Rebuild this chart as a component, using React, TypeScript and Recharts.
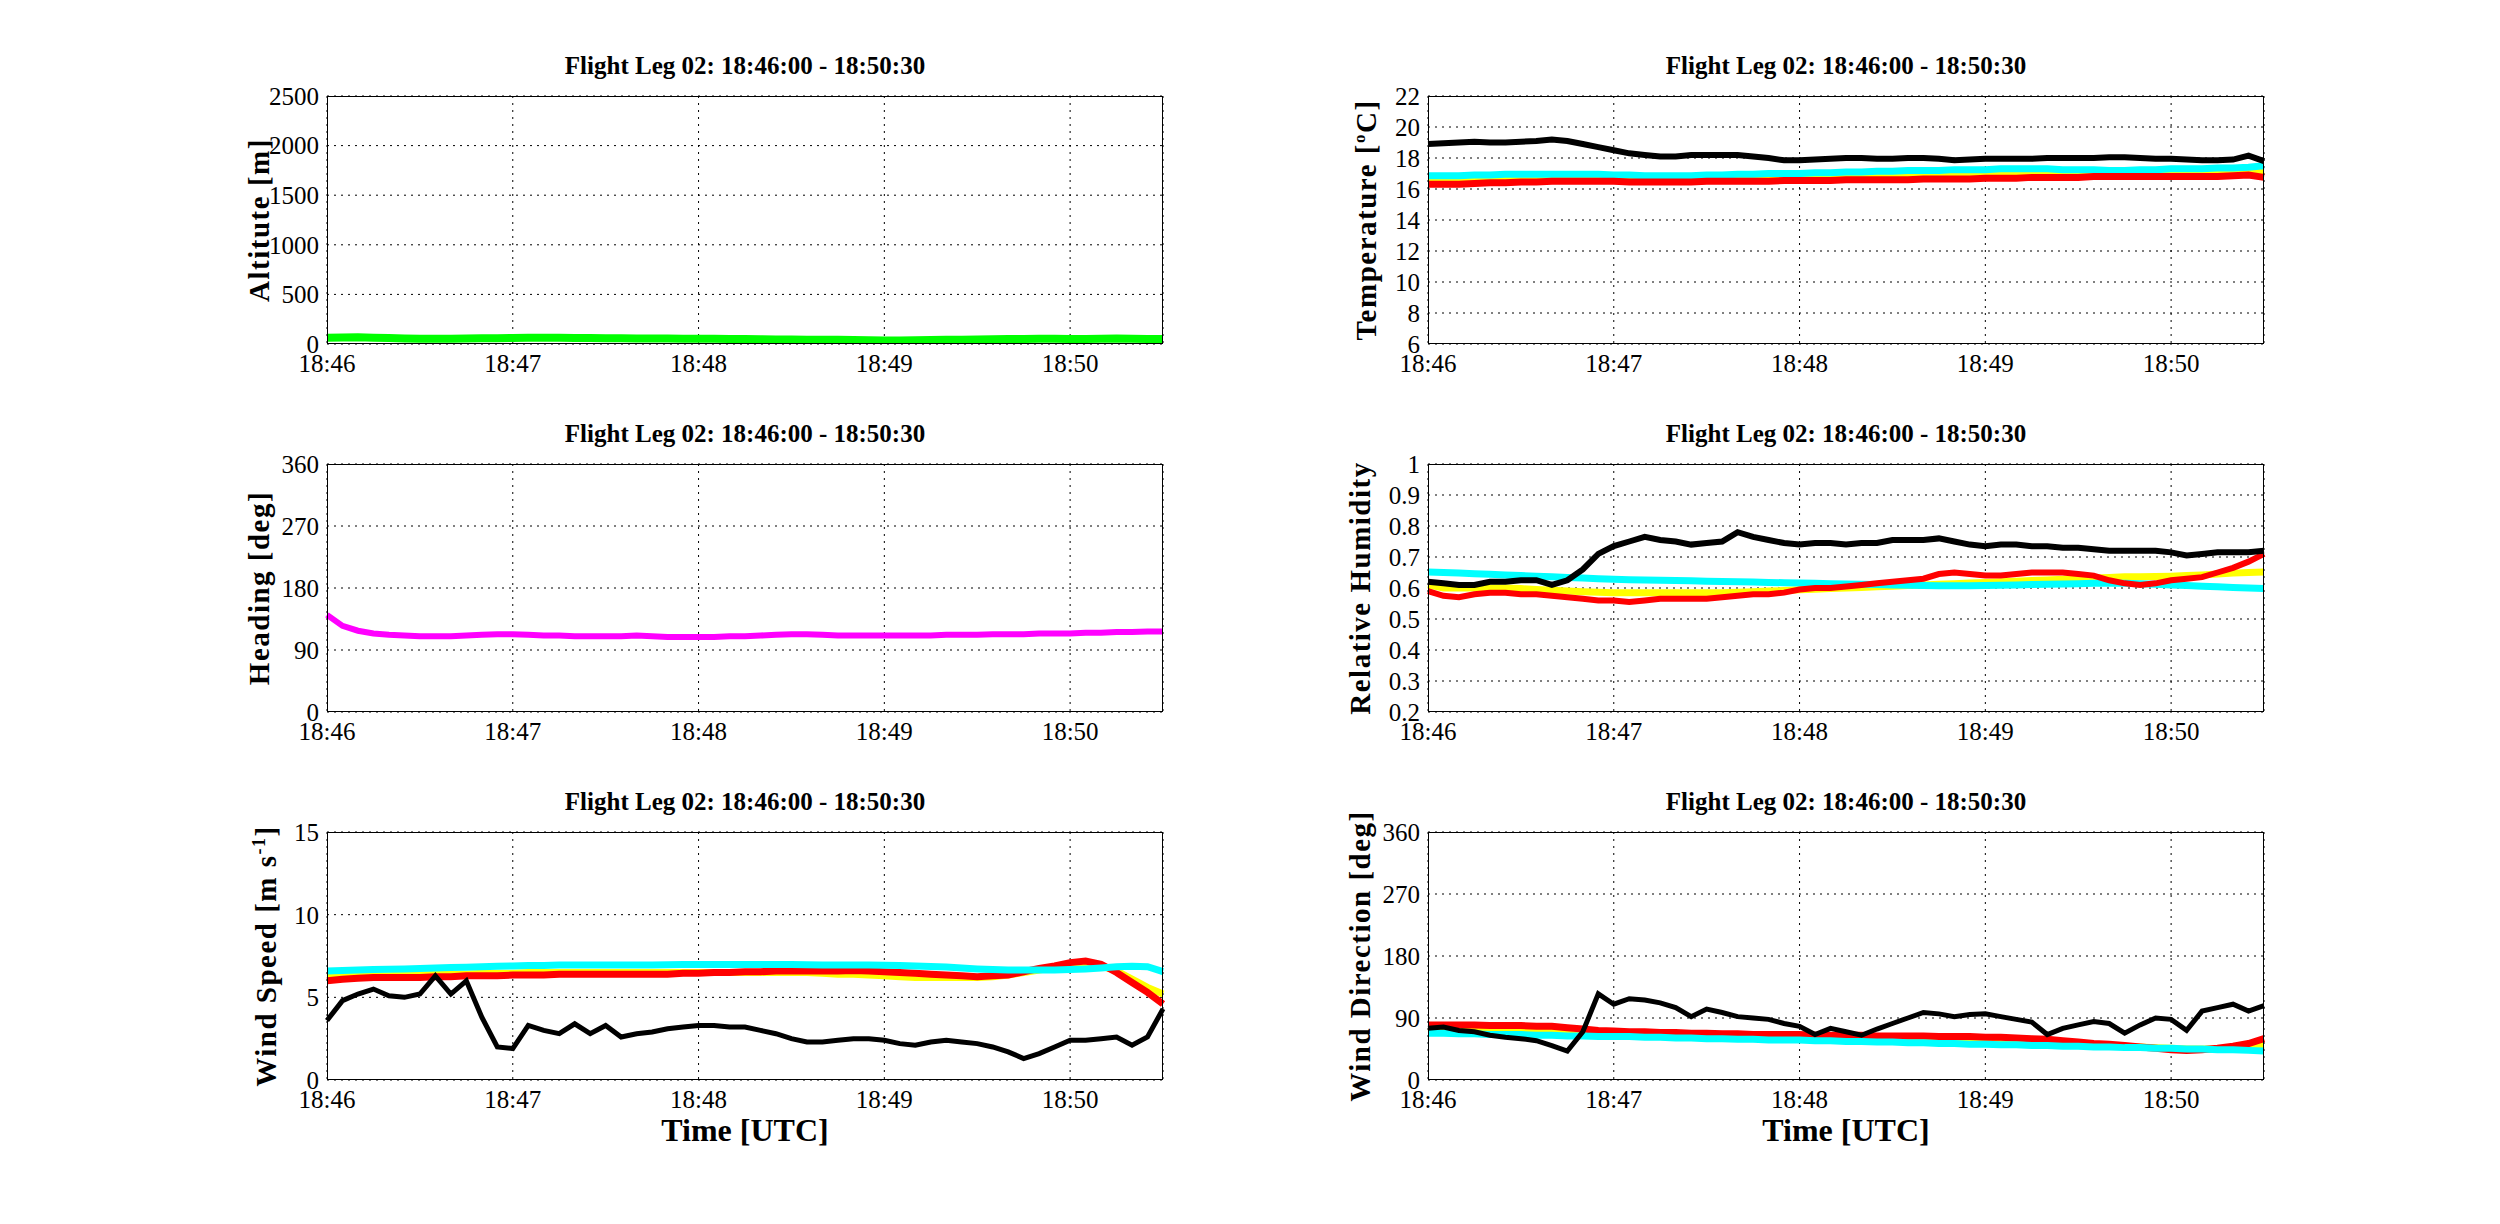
import React from 'react';
import { LineChart, Line, XAxis, YAxis, CartesianGrid } from 'recharts';

// seconds since 18:46:00, every 5 s
const times = Array.from({ length: 55 }, (_, i) => i * 5);
const timeTicks = [0, 60, 120, 180, 240];
const timeLabels = ['18:46', '18:47', '18:48', '18:49', '18:50'];

const altitude = [
  62, 66, 68, 64, 60, 56, 52, 52, 53, 55,
  57, 58, 60, 62, 62, 62, 60, 60, 58, 58,
  56, 56, 55, 54, 53, 52, 50, 50, 48, 46,
  45, 44, 42, 42, 40, 38, 36, 36, 38, 40,
  42, 44, 46, 48, 50, 50, 52, 52, 50, 50,
  52, 55, 52, 50, 50,
];
const heading = [
  141, 125, 118, 114, 112, 111, 110, 110, 110, 111,
  112, 113, 113, 112, 111, 111, 110, 110, 110, 110,
  111, 110, 109, 109, 109, 109, 110, 110, 111, 112,
  113, 113, 112, 111, 111, 111, 111, 111, 111, 111,
  112, 112, 112, 113, 113, 113, 114, 114, 114, 115,
  115, 116, 116, 117, 117,
];
const tempBlack = [
  18.9, 18.95, 19.0, 19.05, 19.0, 19.0, 19.05, 19.1, 19.2, 19.1,
  18.9, 18.7, 18.5, 18.3, 18.2, 18.1, 18.1, 18.2, 18.2, 18.2,
  18.2, 18.1, 18.0, 17.85, 17.85, 17.9, 17.95, 18.0, 18.0, 17.95,
  17.95, 18.0, 18.0, 17.95, 17.85, 17.9, 17.95, 17.95, 17.95, 17.95,
  18.0, 18.0, 18.0, 18.0, 18.05, 18.05, 18.0, 17.95, 17.95, 17.9,
  17.85, 17.85, 17.9, 18.15, 17.8,
];
const tempCyan = [
  16.85, 16.85, 16.85, 16.9, 16.9, 16.95, 16.95, 16.95, 16.95, 16.95,
  16.95, 16.95, 16.9, 16.9, 16.85, 16.85, 16.85, 16.85, 16.9, 16.9,
  16.95, 16.95, 17.0, 17.0, 17.0, 17.05, 17.05, 17.1, 17.1, 17.15,
  17.15, 17.2, 17.2, 17.2, 17.25, 17.25, 17.25, 17.3, 17.3, 17.3,
  17.3, 17.25, 17.25, 17.25, 17.2, 17.2, 17.25, 17.25, 17.3, 17.3,
  17.3, 17.35, 17.35, 17.4, 17.5,
];
const tempYellow = [
  16.5, 16.5, 16.55, 16.55, 16.6, 16.6, 16.6, 16.6, 16.6, 16.6,
  16.6, 16.6, 16.6, 16.6, 16.6, 16.6, 16.6, 16.6, 16.65, 16.65,
  16.65, 16.65, 16.7, 16.7, 16.7, 16.7, 16.75, 16.75, 16.75, 16.8,
  16.8, 16.85, 16.85, 16.85, 16.9, 16.9, 16.9, 16.9, 16.95, 16.95,
  16.95, 16.95, 16.95, 16.95, 16.95, 16.95, 16.95, 16.95, 16.95, 17.0,
  17.0, 17.0, 17.05, 17.1, 17.2,
];
const tempRed = [
  16.3, 16.3, 16.3, 16.35, 16.4, 16.4, 16.45, 16.45, 16.5, 16.5,
  16.5, 16.5, 16.5, 16.45, 16.45, 16.45, 16.45, 16.45, 16.5, 16.5,
  16.5, 16.5, 16.5, 16.55, 16.55, 16.55, 16.55, 16.6, 16.6, 16.6,
  16.6, 16.6, 16.65, 16.65, 16.65, 16.65, 16.7, 16.7, 16.7, 16.75,
  16.75, 16.75, 16.75, 16.8, 16.8, 16.8, 16.8, 16.8, 16.8, 16.8,
  16.8, 16.8, 16.85, 16.9, 16.75,
];
const rhBlack = [
  0.62, 0.615, 0.61, 0.61, 0.62, 0.62, 0.625, 0.625, 0.61, 0.625,
  0.66, 0.71, 0.735, 0.75, 0.765, 0.755, 0.75, 0.74, 0.745, 0.75,
  0.78, 0.765, 0.755, 0.745, 0.74, 0.745, 0.745, 0.74, 0.745, 0.745,
  0.755, 0.755, 0.755, 0.76, 0.75, 0.74, 0.735, 0.74, 0.74, 0.735,
  0.735, 0.73, 0.73, 0.725, 0.72, 0.72, 0.72, 0.72, 0.715, 0.705,
  0.71, 0.715, 0.715, 0.715, 0.72,
];
const rhCyan = [
  0.652, 0.65, 0.648, 0.646, 0.644, 0.642, 0.64, 0.638, 0.636, 0.634,
  0.632, 0.63, 0.628, 0.627, 0.626, 0.625, 0.624, 0.623, 0.622, 0.621,
  0.62, 0.619, 0.618, 0.617, 0.616, 0.615, 0.614, 0.613, 0.612, 0.611,
  0.61, 0.609, 0.608, 0.607, 0.607, 0.607, 0.608, 0.609, 0.61, 0.611,
  0.612, 0.613, 0.614, 0.615, 0.615, 0.615, 0.614, 0.612, 0.61, 0.608,
  0.606, 0.604, 0.602, 0.6, 0.598,
];
const rhYellow = [
  0.61, 0.6, 0.6, 0.6, 0.6, 0.6, 0.598, 0.595, 0.593, 0.59,
  0.588, 0.586, 0.585, 0.585, 0.585, 0.585, 0.585, 0.585, 0.585, 0.585,
  0.586, 0.588, 0.59, 0.592, 0.594, 0.596, 0.598, 0.6, 0.602, 0.604,
  0.606, 0.608, 0.61, 0.612, 0.614, 0.616, 0.618, 0.62, 0.622, 0.624,
  0.626, 0.628, 0.63, 0.632, 0.634, 0.636, 0.636, 0.637, 0.638, 0.64,
  0.642, 0.645, 0.648, 0.65, 0.652,
];
const rhRed = [
  0.59, 0.575, 0.57, 0.58, 0.585, 0.585, 0.58, 0.58, 0.575, 0.57,
  0.565, 0.56, 0.56, 0.555, 0.56, 0.565, 0.565, 0.565, 0.565, 0.57,
  0.575, 0.58, 0.58, 0.585, 0.595, 0.6, 0.6, 0.605, 0.61, 0.615,
  0.62, 0.625, 0.63, 0.645, 0.65, 0.645, 0.64, 0.64, 0.645, 0.65,
  0.65, 0.65, 0.645, 0.64, 0.625, 0.615, 0.61, 0.615, 0.625, 0.63,
  0.635, 0.65, 0.665, 0.685, 0.71,
];
const wsBlack = [
  3.6, 4.8, 5.2, 5.5, 5.1, 5.0, 5.2, 6.3, 5.2, 6.0,
  3.8, 2.0, 1.9, 3.3, 3.0, 2.8, 3.4, 2.8, 3.3, 2.6,
  2.8, 2.9, 3.1, 3.2, 3.3, 3.3, 3.2, 3.2, 3.0, 2.8,
  2.5, 2.3, 2.3, 2.4, 2.5, 2.5, 2.4, 2.2, 2.1, 2.3,
  2.4, 2.3, 2.2, 2.0, 1.7, 1.3, 1.6, 2.0, 2.4, 2.4,
  2.5, 2.6, 2.1, 2.6, 4.3,
];
const wsCyan = [
  6.6, 6.62, 6.65, 6.68, 6.7, 6.72, 6.75, 6.78, 6.8, 6.82,
  6.85, 6.88, 6.9, 6.92, 6.93, 6.95, 6.95, 6.95, 6.95, 6.95,
  6.95, 6.96, 6.97, 6.98, 6.98, 6.98, 6.98, 6.98, 6.98, 6.98,
  6.98, 6.97, 6.96, 6.95, 6.95, 6.95, 6.94, 6.92, 6.9, 6.87,
  6.83, 6.78, 6.72, 6.68, 6.65, 6.65, 6.65, 6.66, 6.68, 6.72,
  6.78, 6.85, 6.88, 6.85, 6.55,
];
const wsYellow = [
  6.2, 6.25, 6.3, 6.3, 6.3, 6.35, 6.35, 6.4, 6.4, 6.4,
  6.45, 6.45, 6.45, 6.5, 6.5, 6.5, 6.5, 6.5, 6.5, 6.5,
  6.5, 6.5, 6.5, 6.5, 6.5, 6.5, 6.5, 6.5, 6.5, 6.5,
  6.5, 6.5, 6.45, 6.4, 6.4, 6.35, 6.3, 6.25, 6.2, 6.2,
  6.2, 6.2, 6.2, 6.25, 6.35, 6.5, 6.65, 6.8, 6.9, 7.0,
  6.9, 6.6, 6.1, 5.6, 5.2,
];
const wsRed = [
  6.0, 6.1, 6.15, 6.2, 6.2, 6.2, 6.2, 6.25, 6.25, 6.3,
  6.3, 6.3, 6.35, 6.35, 6.35, 6.4, 6.4, 6.4, 6.4, 6.4,
  6.4, 6.4, 6.4, 6.45, 6.45, 6.5, 6.5, 6.55, 6.55, 6.6,
  6.6, 6.6, 6.6, 6.6, 6.62, 6.6, 6.55, 6.5, 6.45, 6.4,
  6.35, 6.3, 6.25, 6.3, 6.35, 6.55, 6.75, 6.9, 7.1, 7.2,
  7.0, 6.5, 5.9, 5.3, 4.6,
];
const wdBlack = [
  75, 77, 72, 70, 65, 62, 60, 57, 50, 42,
  70, 125, 110, 118, 116, 112, 105, 92, 103, 98,
  92, 90, 88, 82, 78, 66, 75, 70, 65, 74,
  82, 90, 98, 96, 92, 95, 96, 92, 88, 84,
  66, 75, 80, 85, 82, 68, 80, 90, 88, 72,
  100, 105, 110, 100, 108,
];
const wdCyan = [
  68, 68, 67, 67, 66, 66, 66, 65, 65, 64,
  64, 63, 63, 63, 62, 62, 61, 61, 60, 60,
  59, 59, 58, 58, 58, 57, 57, 56, 56, 55,
  55, 54, 54, 53, 53, 52, 52, 51, 51, 50,
  50, 49, 49, 48, 48, 47, 47, 46, 46, 45,
  45, 44, 44, 43, 42,
];
const wdYellow = [
  76, 75, 75, 74, 74, 73, 72, 71, 70, 69,
  68, 67, 67, 66, 66, 65, 65, 64, 64, 63,
  63, 62, 62, 62, 61, 61, 61, 60, 60, 60,
  59, 59, 59, 58, 58, 57, 57, 56, 56, 55,
  54, 53, 52, 51, 50, 49, 48, 47, 46, 45,
  45, 45, 46, 48, 50,
];
const wdRed = [
  80, 80, 80, 80, 79, 79, 79, 78, 78, 76,
  74, 72, 71, 70, 70, 69, 69, 68, 68, 67,
  67, 66, 66, 66, 66, 65, 65, 65, 65, 64,
  64, 64, 64, 63, 63, 63, 62, 62, 61, 60,
  59, 57, 55, 53, 52, 50, 48, 46, 44, 43,
  44, 46, 49, 53, 60,
];

const TITLE = 'Flight Leg 02: 18:46:00 - 18:50:30';
const FONT = '"Liberation Serif", "Times New Roman", serif';
const PW = 836;
const PH = 248;

type S = { values: number[]; color: string; width: number };

function Panel({ left, top, ylabel, domain, ticks, fmt, series, showTime }: {
  left: number; top: number; ylabel: React.ReactNode; domain: [number, number]; ticks: number[];
  fmt?: (v: number) => string; series: S[]; showTime?: boolean;
}) {
  const data = times.map((t, i) => {
    const row: Record<string, number> = { t };
    series.forEach((s, k) => { row['s' + k] = s.values[i]; });
    return row;
  });
  return (
    <>
      <div style={{ position: 'absolute', left: left - 200, top: top - 20 }}>
        <LineChart width={1100} height={370} data={data} margin={{ top: 20, right: 1100 - 200 - PW, left: 120, bottom: 62 }}>
          <CartesianGrid stroke="#000" strokeDasharray="2 5" strokeWidth={1} />
          <XAxis dataKey="t" type="number" domain={[0, 270]} ticks={timeTicks} tickLine={false} axisLine={false}
            tickSize={0} tickMargin={10} height={40}
            tickFormatter={(v) => timeLabels[timeTicks.indexOf(v)]}
            tick={{ fill: '#000', fontSize: 25, fontFamily: FONT }} />
          <YAxis type="number" domain={domain} ticks={ticks} tickLine={false} axisLine={false} width={80}
            tickSize={0} tickMargin={8} interval={0} allowDataOverflow
            tickFormatter={fmt}
            tick={{ fill: '#000', fontSize: 25, fontFamily: FONT }} />
          {series.map((s, k) => (
            <Line key={k} dataKey={'s' + k} type="linear" stroke={s.color} strokeWidth={s.width}
              dot={false} isAnimationActive={false} />
          ))}
        </LineChart>
      </div>
      <div style={{ position: 'absolute', left, top, width: PW, height: PH, border: '1.5px solid #000', boxSizing: 'border-box', pointerEvents: 'none' }} />
      <div style={{ position: 'absolute', left, top: top - 44, width: PW, textAlign: 'center', fontFamily: FONT, fontWeight: 'bold', fontSize: 25 }}>{TITLE}</div>
      <div style={{ position: 'absolute', left: left - 68 - 200, top: top + PH / 2 - 18, width: 400, height: 36, lineHeight: '36px', textAlign: 'center', transform: 'rotate(-90deg)', transformOrigin: '200px 18px', fontFamily: FONT, fontWeight: 'bold', fontSize: 29, letterSpacing: 1.5, whiteSpace: 'nowrap' }}>{ylabel}</div>
      {showTime && (
        <div style={{ position: 'absolute', left, top: top + PH + 32, width: PW, textAlign: 'center', fontFamily: FONT, fontWeight: 'bold', fontSize: 32 }}>Time [UTC]</div>
      )}
    </>
  );
}

const L = 327;
const R = 1428;
const ROWS = [96, 464, 832];

export default function App() {
  return (
    <div style={{ position: 'absolute', left: 0, top: 0, width: 2500, height: 1224, background: '#fff' }}>
      <Panel left={L} top={ROWS[0]} ylabel="Altitute [m]" domain={[0, 2500]} ticks={[0, 500, 1000, 1500, 2000, 2500]}
        series={[{ values: altitude, color: '#00ff00', width: 8 }]} />
      <Panel left={R} top={ROWS[0]} ylabel={<>Temperature [<sup style={{ fontSize: 17 }}>o</sup>C]</>} domain={[6, 22]}
        ticks={[6, 8, 10, 12, 14, 16, 18, 20, 22]}
        series={[
          { values: tempYellow, color: '#ffff00', width: 7 },
          { values: tempCyan, color: '#00ffff', width: 7 },
          { values: tempRed, color: '#ff0000', width: 7 },
          { values: tempBlack, color: '#000', width: 6 },
        ]} />
      <Panel left={L} top={ROWS[1]} ylabel="Heading [deg]" domain={[0, 360]} ticks={[0, 90, 180, 270, 360]}
        series={[{ values: heading, color: '#ff00ff', width: 6 }]} />
      <Panel left={R} top={ROWS[1]} ylabel="Relative Humidity" domain={[0.2, 1]}
        ticks={[0.2, 0.3, 0.4, 0.5, 0.6, 0.7, 0.8, 0.9, 1]} fmt={(v) => String(Math.round(v * 10) / 10)}
        series={[
          { values: rhYellow, color: '#ffff00', width: 7 },
          { values: rhCyan, color: '#00ffff', width: 7 },
          { values: rhRed, color: '#ff0000', width: 6 },
          { values: rhBlack, color: '#000', width: 6 },
        ]} />
      <Panel left={L} top={ROWS[2]} ylabel={<>Wind Speed [m s<sup style={{ fontSize: 18 }}>-1</sup>]</>} domain={[0, 15]}
        ticks={[0, 5, 10, 15]} showTime
        series={[
          { values: wsYellow, color: '#ffff00', width: 7 },
          { values: wsRed, color: '#ff0000', width: 7 },
          { values: wsCyan, color: '#00ffff', width: 7 },
          { values: wsBlack, color: '#000', width: 5 },
        ]} />
      <Panel left={R} top={ROWS[2]} ylabel="Wind Direction [deg]" domain={[0, 360]} ticks={[0, 90, 180, 270, 360]} showTime
        series={[
          { values: wdYellow, color: '#ffff00', width: 7 },
          { values: wdRed, color: '#ff0000', width: 7 },
          { values: wdCyan, color: '#00ffff', width: 7 },
          { values: wdBlack, color: '#000', width: 5 },
        ]} />
    </div>
  );
}
